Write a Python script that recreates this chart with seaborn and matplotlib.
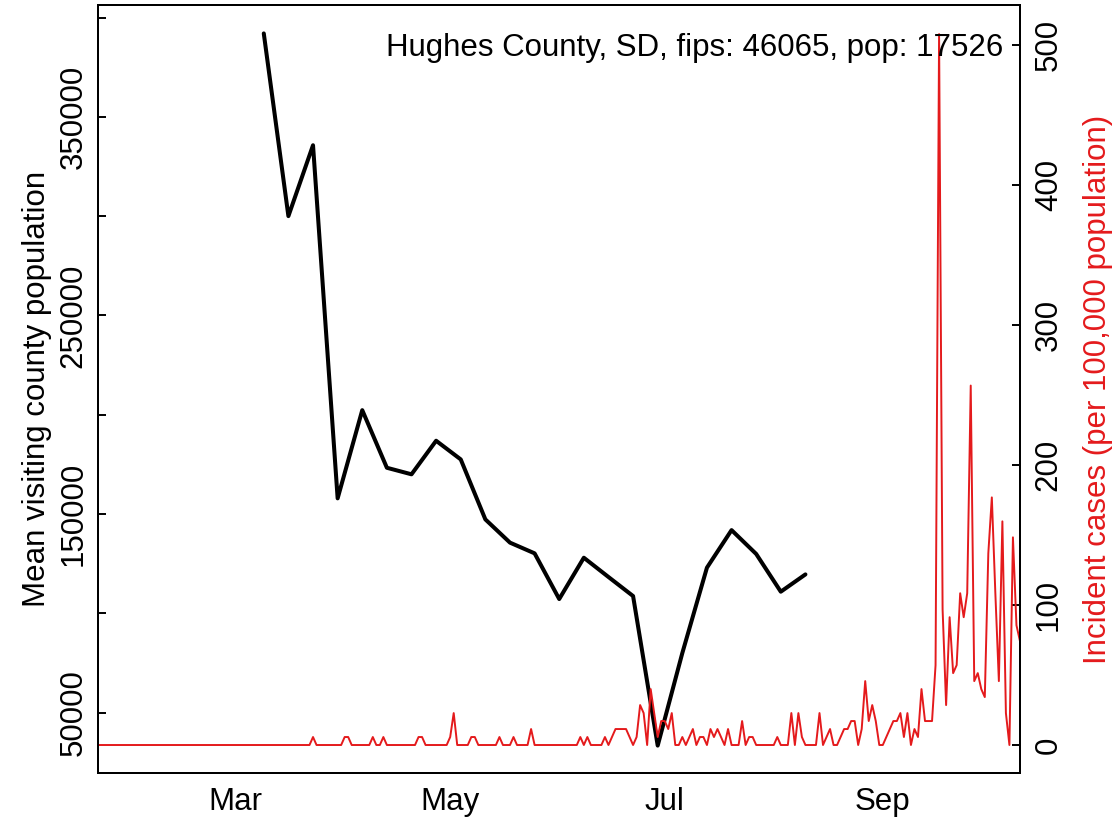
import numpy as np
import pandas as pd
import matplotlib
matplotlib.use("Agg")
import matplotlib.pyplot as plt
import seaborn as sns

# ---------------- data ----------------
county_label = "Hughes County, SD, fips: 46065, pop: 17526"
population = 17526

case_start = "2020-01-22"
# daily new cases (counts), one value per day from Jan 22
daily_cases = [
    0, 0, 0, 0, 0, 0, 0, 0, 0, 0,
    0, 0, 0, 0, 0, 0, 0, 0, 0, 0,
    0, 0, 0, 0, 0, 0, 0, 0, 0, 0,
    0, 0, 0, 0, 0, 0, 0, 0, 0, 0,
    0, 0, 0, 0, 0, 0, 0, 0, 0, 0,
    0, 0, 0, 0, 0, 0, 0, 0, 0, 0,
    0, 1, 0, 0, 0, 0, 0, 0, 0, 0,
    1, 1, 0, 0, 0, 0, 0, 0, 1, 0,
    0, 1, 0, 0, 0, 0, 0, 0, 0, 0,
    0, 1, 1, 0, 0, 0, 0, 0, 0, 0,
    1, 4, 0, 0, 0, 0, 1, 1, 0, 0,
    0, 0, 0, 0, 1, 0, 0, 0, 1, 0,
    0, 0, 0, 2, 0, 0, 0, 0, 0, 0,
    0, 0, 0, 0, 0, 0, 0, 1, 0, 1,
    0, 0, 0, 0, 1, 0, 1, 2, 2, 2,
    2, 1, 0, 1, 5, 4, 0, 7, 4, 1,
    3, 3, 2, 4, 0, 0, 1, 0, 1, 2,
    0, 1, 1, 0, 2, 1, 2, 1, 0, 2,
    0, 0, 0, 3, 0, 1, 1, 0, 0, 0,
    0, 0, 0, 1, 0, 0, 0, 4, 0, 4,
    1, 0, 0, 0, 0, 4, 0, 1, 2, 0,
    0, 1, 2, 2, 3, 3, 0, 2, 8, 3,
    5, 3, 0, 0, 1, 2, 3, 3, 4, 1,
    4, 0, 2, 1, 7, 3, 3, 3, 10, 89,
    17, 5, 16, 9, 10, 19, 16, 19, 45, 8,
    9, 7, 6, 24, 31, 19, 8, 28, 4, 0,
    26, 15, 13,
]

week_start = "2020-03-09"
# weekly mean visiting county population (black line)
mean_visiting = [392000, 300000, 335700, 157900, 202300, 173300, 170000,
                 186900, 177500, 147300, 135600, 130200, 107200, 128000,
                 118300, 108700, 33400, 80000, 123000, 141900, 129900,
                 110900, 119600]

month_ticks = ["2020-03-01", "2020-05-01", "2020-07-01", "2020-09-01"]
month_labels = ["Mar", "May", "Jul", "Sep"]
left_ticks = [50000, 100000, 150000, 200000, 250000, 300000, 350000, 400000]
left_labels = ["50000", "", "150000", "", "250000", "", "350000", ""]
right_ticks = [0, 100, 200, 300, 400, 500]

# ---------------- frames ----------------
cases_df = pd.DataFrame({
    "date": pd.date_range(case_start, periods=len(daily_cases), freq="D"),
    "incidence": np.array(daily_cases) * 1e5 / population,
})
mob_df = pd.DataFrame({
    "date": pd.date_range(week_start, periods=len(mean_visiting), freq="7D"),
    "visiting": mean_visiting,
})

# ---------------- style ----------------
sns.set_theme(style="white")
plt.rcParams["font.family"] = ["Liberation Sans", "DejaVu Sans"]
FS = 22.5
RED = "#E41A1C"

fig = plt.figure(figsize=(11.19, 8.22), dpi=100)
ax = fig.add_axes([0.088, 0.0596, 0.9115 - 0.088, 0.9939 - 0.0596])
ax2 = ax.twinx()

sns.lineplot(data=mob_df, x="date", y="visiting", ax=ax, color="black",
             linewidth=2.9, legend=False)
sns.lineplot(data=cases_df, x="date", y="incidence", ax=ax2, color=RED,
             linewidth=1.4, legend=False)

xmin = pd.Timestamp("2020-01-22")
xmax = pd.Timestamp("2020-10-10")
ax.set_xlim(xmin, xmax)
ax2.set_xlim(xmin, xmax)
ax.set_ylim(19600, 406300)
ax2.set_ylim(-20, 528.6)

ax.set_xticks(pd.to_datetime(month_ticks))
ax.set_xticklabels(month_labels)
ax.set_yticks(left_ticks)
ax.set_yticklabels(left_labels)
ax2.set_yticks(right_ticks)
ax2.set_yticklabels([str(v) for v in right_ticks])

for a in (ax, ax2):
    for s in a.spines.values():
        s.set_visible(True)
        s.set_color("black")
        s.set_linewidth(1.4)
    a.grid(False)

ax.tick_params(axis="x", direction="in", length=5.8, width=1.4,
               labelsize=FS, pad=10, colors="black", labelcolor="black")
ax.tick_params(axis="y", direction="in", length=5.8, width=1.4,
               labelsize=FS, pad=7, labelrotation=90, colors="black",
               labelcolor="black")
ax2.tick_params(axis="y", direction="in", length=5.8, width=1.4,
                labelsize=FS, pad=10, labelrotation=90, colors="black",
                labelcolor="black")
for lab in ax.get_yticklabels() + ax2.get_yticklabels():
    lab.set_va("center")

ax.set_xlabel("")
ax.set_ylabel("Mean visiting county population", fontsize=FS, labelpad=5,
              color="black")
ax2.set_ylabel("Incident cases (per 100,000 population)", fontsize=FS,
               color=RED, labelpad=14)

ax2.text(0.9815, 0.9336, county_label, transform=ax2.transAxes,
         ha="right", va="baseline", fontsize=FS, color="black")

fig.savefig("out.png", dpi=100)
